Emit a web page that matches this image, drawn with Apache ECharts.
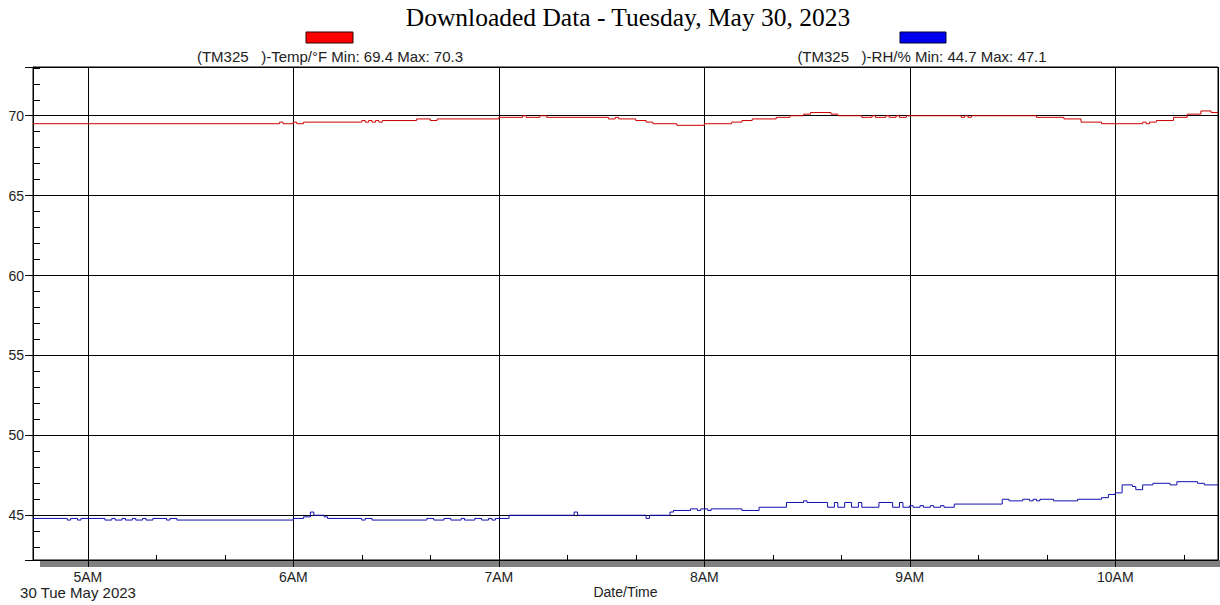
<!DOCTYPE html>
<html><head><meta charset="utf-8">
<script src="https://cdn.jsdelivr.net/npm/echarts@6/dist/echarts.min.js"></script>
<style>html,body{margin:0;padding:0;background:#fff}#c{width:1220px;height:605px}</style>
</head><body><div id="c"></div>
<script>
const titleText = 'Downloaded Data - Tuesday, May 30, 2023';
const seriesNames = ['(TM325\u00a0\u00a0\u00a0)-Temp/°F', '(TM325\u00a0\u00a0\u00a0)-RH/%'];
const dateLabel = '30 Tue May 2023';
const xAxisName = 'Date/Time';
const axisStart = '04:44';
const axisEnd = '10:30';
const yMin = 42.2;
const yMax = 73.05;

const tempTimes = ['04:44','05:56','05:57','06:00','06:01','06:03','06:20','06:21','06:22','06:23','06:24','06:25','06:26','06:36','06:40','06:42','07:00','07:07','07:08','07:12','07:14','07:32','07:34','07:35','07:40','07:43','07:45','07:52','08:00','08:08','08:11','08:14','08:21','08:25','08:29','08:31','08:37','08:39','08:46','08:49','08:50','08:53','08:54','08:56','08:57','08:59','09:15','09:16','09:17','09:18','09:37','09:45','09:50','09:56','10:08','10:09','10:10','10:12','10:17','10:21','10:25','10:28','10:30'];
const tempValues = [69.5,69.6,69.5,69.6,69.5,69.6,69.7,69.6,69.7,69.6,69.7,69.6,69.7,69.8,69.7,69.8,69.9,70.0,69.9,70.0,69.9,69.8,69.9,69.8,69.7,69.6,69.5,69.4,69.5,69.6,69.7,69.8,69.9,70.0,70.1,70.2,70.1,70.0,69.9,70.0,69.9,70.0,69.9,70.0,69.9,70.0,69.9,70.0,69.9,70.0,69.9,69.8,69.6,69.5,69.6,69.5,69.6,69.7,69.9,70.1,70.3,70.2,70.2];

const rhTimes = ['04:44','04:54','04:55','04:57','04:58','05:05','05:07','05:08','05:10','05:11','05:13','05:14','05:16','05:17','05:19','05:23','05:24','05:26','06:00','06:03','06:05','06:06','06:09','06:10','06:20','06:21','06:23','06:39','06:41','06:44','06:46','06:49','06:50','06:53','06:55','06:57','06:58','06:59','07:03','07:22','07:23','07:43','07:44','07:50','07:51','07:56','07:58','07:59','08:01','08:02','08:11','08:16','08:24','08:29','08:30','08:36','08:38','08:39','08:41','08:43','08:45','08:46','08:51','08:55','08:57','08:58','09:00','09:01','09:03','09:04','09:06','09:07','09:09','09:10','09:13','09:27','09:29','09:33','09:35','09:36','09:37','09:38','09:42','09:49','09:56','09:58','10:00','10:02','10:05','10:06','10:08','10:11','10:16','10:18','10:24','10:26','10:30'];
const rhValues = [44.8,44.7,44.8,44.7,44.8,44.7,44.8,44.7,44.8,44.7,44.8,44.7,44.8,44.7,44.8,44.7,44.8,44.7,44.8,44.9,45.2,45.0,44.9,44.8,44.7,44.8,44.7,44.8,44.7,44.8,44.7,44.8,44.7,44.8,44.7,44.8,44.7,44.8,45.0,45.2,45.0,44.8,45.0,45.2,45.3,45.4,45.3,45.4,45.3,45.4,45.3,45.5,45.8,45.9,45.8,45.5,45.8,45.5,45.8,45.5,45.8,45.5,45.8,45.5,45.8,45.5,45.6,45.5,45.6,45.5,45.6,45.5,45.6,45.5,45.7,46.0,45.9,46.0,45.9,46.0,45.9,46.0,45.9,46.0,46.1,46.3,46.4,46.9,46.8,46.6,46.9,47.0,46.9,47.1,47.0,46.9,46.9];

const toMs = s => { const p = s.split(':').map(Number); return new Date(2023, 4, 30, p[0], p[1]).getTime(); };
const pair = (ts, vs) => ts.map((t, i) => [toMs(t), vs[i]]);
const f1 = v => v.toFixed(1);
const legendTexts = [
  seriesNames[0] + ' Min: ' + f1(Math.min(...tempValues)) + ' Max: ' + f1(Math.max(...tempValues)),
  seriesNames[1] + ' Min: ' + f1(Math.min(...rhValues)) + ' Max: ' + f1(Math.max(...rhValues))
];
const lineColors = ['#d00000', '#1010b0'];
const swatchColors = ['#ff0000', '#0000f0'];
const sans = 'Liberation Sans, Arial, sans-serif';
const txt = '#222';

const chart = echarts.init(document.getElementById('c'), null, {renderer: 'svg'});
chart.setOption({
  animation: false,
  backgroundColor: '#ffffff',
  title: {
    text: titleText, left: 628, top: 4, textAlign: 'center', padding: 0,
    textStyle: {fontFamily: 'Liberation Serif, Times New Roman, serif', fontSize: 25.5, fontWeight: 'normal', color: '#000'}
  },
  grid: {left: 33, right: 2, top: 67, bottom: 45, show: true, borderColor: '#000', borderWidth: 1, containLabel: false, outerBoundsMode: 'none'},
  xAxis: [{
    type: 'time', min: toMs(axisStart), max: toMs(axisEnd),
    minInterval: 3600000, maxInterval: 3600000,
    name: xAxisName, nameLocation: 'middle', nameGap: 25, nameMoveOverlap: false,
    nameTextStyle: {fontFamily: sans, fontSize: 14, color: txt},
    axisLine: {lineStyle: {color: '#000', width: 1}},
    axisTick: {show: true, length: 7, lineStyle: {color: '#000'}},
    axisLabel: {
      margin: 10, fontFamily: sans, fontSize: 14, color: txt, showMinLabel: false, showMaxLabel: false,
      formatter: function (val) { const d = new Date(val); if (d.getMinutes() !== 0) return ''; const h = d.getHours(); return (h % 12 || 12) + (h < 12 ? 'AM' : 'PM'); }
    },
    splitLine: {show: true, lineStyle: {color: '#000', width: 1}}
  }, {
    type: 'time', min: toMs(axisStart), max: toMs(axisEnd), position: 'bottom', gridIndex: 0,
    minInterval: 1800000, maxInterval: 1800000,
    axisLine: {show: false},
    axisTick: {show: true, inside: true, length: 5, lineStyle: {color: '#000'}},
    axisLabel: {show: false}, splitLine: {show: false}
  }],
  yAxis: [{
    type: 'value', min: yMin, max: yMax, splitNumber: 6,
    axisLine: {show: true, lineStyle: {color: '#000', width: 1}},
    axisTick: {show: true, length: 8, lineStyle: {color: '#000'}},
    axisLabel: {margin: 9, fontFamily: sans, fontSize: 14, color: txt, formatter: v => (Math.abs(v % 5) < 1e-9 ? String(v) : '')},
    splitLine: {show: true, lineStyle: {color: '#000', width: 1}}
  }, {
    type: 'value', min: yMin, max: yMax, splitNumber: 31, position: 'left',
    axisLine: {show: false},
    axisTick: {show: true, inside: true, length: 7, lineStyle: {color: '#000'}},
    axisLabel: {show: false}, splitLine: {show: false}
  }],
  series: [{
    name: seriesNames[0], type: 'line', step: 'end', showSymbol: false, xAxisIndex: 0, yAxisIndex: 0,
    lineStyle: {color: lineColors[0], width: 1}, itemStyle: {color: lineColors[0]},
    data: pair(tempTimes, tempValues)
  }, {
    name: seriesNames[1], type: 'line', step: 'end', showSymbol: false, xAxisIndex: 0, yAxisIndex: 0,
    lineStyle: {color: lineColors[1], width: 1}, itemStyle: {color: lineColors[1]},
    data: pair(rhTimes, rhValues)
  }],
  graphic: [
    {type: 'rect', z: -1, shape: {x: 40, y: 560, width: 1180, height: 7}, style: {fill: '#808080'}},
    {type: 'rect', shape: {x: 306, y: 32, width: 47, height: 11}, style: {fill: swatchColors[0], stroke: '#300', lineWidth: 1}},
    {type: 'rect', shape: {x: 900, y: 32, width: 46, height: 11}, style: {fill: swatchColors[1], stroke: '#003', lineWidth: 1}},
    {type: 'text', x: 330, y: 56, style: {text: legendTexts[0], fill: txt, font: '15px ' + sans, textAlign: 'center', textVerticalAlign: 'middle'}},
    {type: 'text', x: 922, y: 56, style: {text: legendTexts[1], fill: txt, font: '15px ' + sans, textAlign: 'center', textVerticalAlign: 'middle'}},
    {type: 'text', x: 78, y: 592, style: {text: dateLabel, fill: txt, font: '15px ' + sans, textAlign: 'center', textVerticalAlign: 'middle'}}
  ]
});
</script></body></html>
